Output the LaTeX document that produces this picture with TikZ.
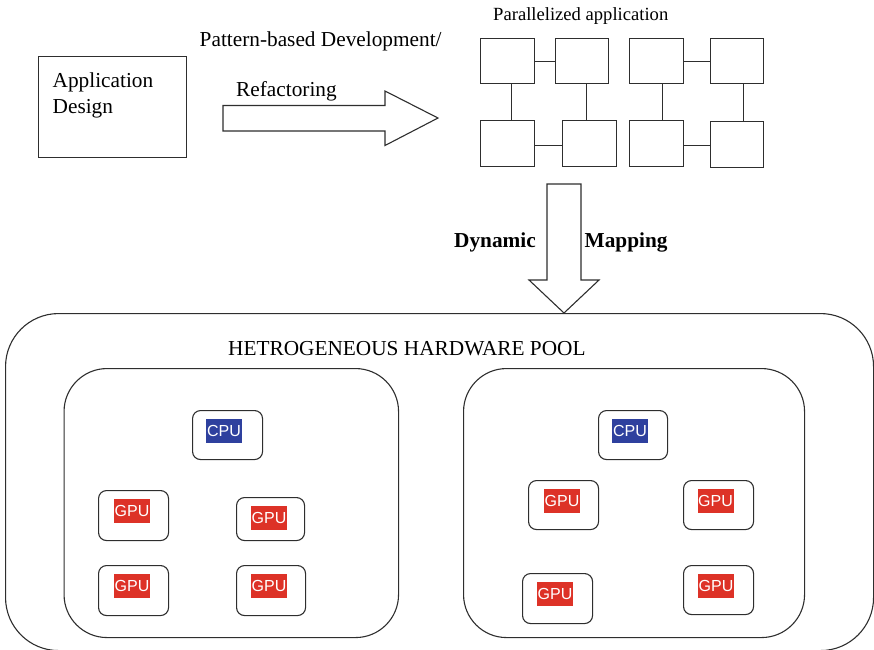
\documentclass[tikz,border=0pt]{standalone}
\usepackage{fontspec}
\setmainfont{Liberation Serif}
\newfontfamily\labelfont{Liberation Sans}
\definecolor{linegray}{HTML}{2E2E2E}
\definecolor{cpublue}{HTML}{2E409E}
\definecolor{gpured}{HTML}{DD3227}
\tikzset{
  link/.style={draw=linegray, line width=1.1pt},
  plainbox/.style={draw=linegray, line width=1.1pt, inner sep=0pt, anchor=north west},
  taskbox/.style={plainbox},
  chipbox/.style={plainbox, rounded corners=8pt},
  poolbox/.style={plainbox, rounded corners=43pt},
  hwbox/.style={plainbox, rounded corners=53pt},
  serif/.style={inner sep=0pt, anchor=base west, font=\fontsize{21.3}{26}\selectfont},
  boldserif/.style={serif, font=\fontsize{21.3}{26}\selectfont\bfseries},
  chiplabel/.style={inner sep=0pt, minimum width=36pt, minimum height=24pt,
    text height=11.5pt, text depth=0pt,
    text=white, font=\labelfont\fontsize{16}{16}\selectfont},
  cpulabel/.style={chiplabel, fill=cpublue},
  gpulabel/.style={chiplabel, fill=gpured},
  blockarrow/.style={draw=linegray, line width=1.1pt, fill=white, line join=miter},
}
% box from corner (x1,y1) to (x2,y2)
\newcommand\sizedbox[6]{%
  \node[#1, minimum width=#4pt-#2pt, minimum height=#5pt-#3pt] (#6) at (#2,#3) {};}
\begin{document}
\begin{tikzpicture}[x=1pt, y=-1pt]
\useasboundingbox (0,0) rectangle (874,649);
\clip (0,0) rectangle (874,649);

% application design
\sizedbox{taskbox}{38}{56}{186}{157}{design}
\node[serif] (designtxt) at (52.5,87.3) {Application};
\node[serif] (designtxt2) at (52.5,113.3) {Design};

% refactoring arrow
\node[serif] (pattern) at (199.5,46.7) {Pattern-based Development/};
\node[serif] (refact) at (236,96.7) {Refactoring};
\draw[blockarrow] (223,105.5) -- (385,105.5) -- (385,91) -- (438,118)
  -- (385,145.5) -- (385,131) -- (223,131) -- cycle;

% parallelized application
\node[serif, font=\fontsize{18.6}{22}\selectfont] (partitle) at (493,20.7) {Parallelized application};
\sizedbox{taskbox}{480}{38}{534}{83}{t1}
\sizedbox{taskbox}{555}{38}{608}{83}{t2}
\sizedbox{taskbox}{629}{38}{683}{83}{t3}
\sizedbox{taskbox}{710}{38}{763}{83}{t4}
\sizedbox{taskbox}{480}{120}{534}{166}{t5}
\sizedbox{taskbox}{562}{120}{616}{166}{t6}
\sizedbox{taskbox}{629}{120}{683}{166}{t7}
\sizedbox{taskbox}{710}{121}{763}{167}{t8}
\draw[link] (t1.east) -- (t2.west);
\draw[link] (t3.east) -- (t4.west);
\draw[link] ([yshift=-2pt]t5.east) -- ([yshift=-2pt]t5.east -| t6.west);
\draw[link] ([yshift=-1.5pt]t7.east) -- ([yshift=-1.5pt]t7.east -| t8.west);
\draw[link] ([xshift=4pt]t1.south) -- ([xshift=4pt]t1.south |- t5.north);
\draw[link] ([xshift=4pt]t2.south) -- ([xshift=4pt]t2.south |- t6.north);
\draw[link] ([xshift=5.5pt]t3.south) -- ([xshift=5.5pt]t3.south |- t7.north);
\draw[link] ([xshift=6pt]t4.south) -- ([xshift=6pt]t4.south |- t8.north);

% mapping arrow
\node[boldserif] (dyn) at (454,247.5) {Dynamic};
\node[boldserif] (map) at (584.5,247.5) {Mapping};
\draw[blockarrow] (547,184) -- (581,184) -- (581,280) -- (599,280) -- (564,313)
  -- (529,280) -- (547,280) -- cycle;

% hardware pool
\sizedbox{hwbox}{5}{313}{873}{650}{pool}
\node[serif] (pooltxt) at (228,355.5) {HETROGENEOUS HARDWARE POOL};
\sizedbox{poolbox}{63.5}{368}{398}{637}{nodeA}
\sizedbox{poolbox}{463}{368}{804}{637}{nodeB}

% first compute node
\sizedbox{chipbox}{192}{410}{262}{459}{cpuA}
\node[cpulabel] (cpuAl) at (224,431) {CPU};
\sizedbox{chipbox}{98}{490}{168}{540}{gpuA1}
\node[gpulabel] (gpuA1l) at (132,511) {GPU};
\sizedbox{chipbox}{236}{497}{304}{540}{gpuA2}
\node[gpulabel] (gpuA2l) at (269,518) {GPU};
\sizedbox{chipbox}{98}{565}{168}{615}{gpuA3}
\node[gpulabel] (gpuA3l) at (132,585.5) {GPU};
\sizedbox{chipbox}{236}{565}{305}{615}{gpuA4}
\node[gpulabel] (gpuA4l) at (269,585.5) {GPU};

% second compute node
\sizedbox{chipbox}{598}{410}{667}{459}{cpuB}
\node[cpulabel] (cpuBl) at (630,431) {CPU};
\sizedbox{chipbox}{528}{480}{598}{529}{gpuB1}
\node[gpulabel] (gpuB1l) at (562,501) {GPU};
\sizedbox{chipbox}{683}{480}{753}{529}{gpuB2}
\node[gpulabel] (gpuB2l) at (715.5,501) {GPU};
\sizedbox{chipbox}{522}{573}{592}{623}{gpuB3}
\node[gpulabel] (gpuB3l) at (555,594) {GPU};
\sizedbox{chipbox}{683}{565}{753}{614}{gpuB4}
\node[gpulabel] (gpuB4l) at (716,586) {GPU};
\end{tikzpicture}
\end{document}
